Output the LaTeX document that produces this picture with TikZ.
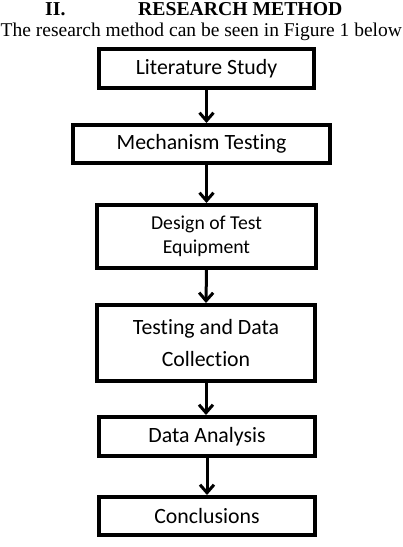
\documentclass[tikz,border=0pt]{standalone}
\usepackage{fontspec}
\setmainfont{Liberation Serif}
\newfontfamily\calibri[Ligatures=NoCommon]{Carlito}
\usetikzlibrary{arrows.meta}
\begin{document}
\begin{tikzpicture}[x=1pt,y=-1pt,
  stepbox/.style={draw=black,line width=4pt,fill=white,inner sep=0pt,align=center,
    font=\calibri\fontsize{21.8}{31.5}\selectfont},
  flow/.style={draw=black,line width=3pt,-{Straight Barb[length=8pt,width=14pt,line width=3pt]}},
  hdr/.style={anchor=base west,inner sep=0pt}]
\useasboundingbox (0,0) rectangle (403,547);
\node[hdr,font=\bfseries\fontsize{19.7}{22}\selectfont] (num) at (45,15) {II.};
\node[hdr,font=\bfseries\fontsize{19.7}{22}\selectfont] (title) at (138,15) {RESEARCH METHOD};
\node[hdr,font=\fontsize{19.5}{22}\selectfont] (intro) at (0.5,36.7) {The research method can be seen in Figure 1 below};
\node[stepbox,minimum width=215pt,minimum height=39pt] (s1) at (206.5,68.5) {Literature Study};
\node[stepbox,minimum width=257pt,minimum height=38pt] (s2) at (201.5,144) {Mechanism Testing};
\node[stepbox,minimum width=219pt,minimum height=63pt,font=\calibri\fontsize{19.7}{23.5}\selectfont] (s3) at (206.5,236.5) {Design of Test\\Equipment};
\node[stepbox,minimum width=218pt,minimum height=76pt] (s4) at (206,343) {Testing and Data\\Collection};
\node[stepbox,minimum width=216pt,minimum height=39pt] (s5) at (207,436.5) {Data Analysis};
\node[stepbox,minimum width=216pt,minimum height=38pt] (s6) at (207,516) {Conclusions};
\draw[flow] (s1.south) -- (s1.south |- s2.north);
\draw[flow] (s1.south |- s2.south) -- (s1.south |- s3.north);
\draw[flow] (s3.south) -- (s4.north);
\draw[flow] (s4.south) -- (s4.south |- s5.north);
\draw[flow] (s5.south) -- (s6.north);
\end{tikzpicture}
\end{document}
